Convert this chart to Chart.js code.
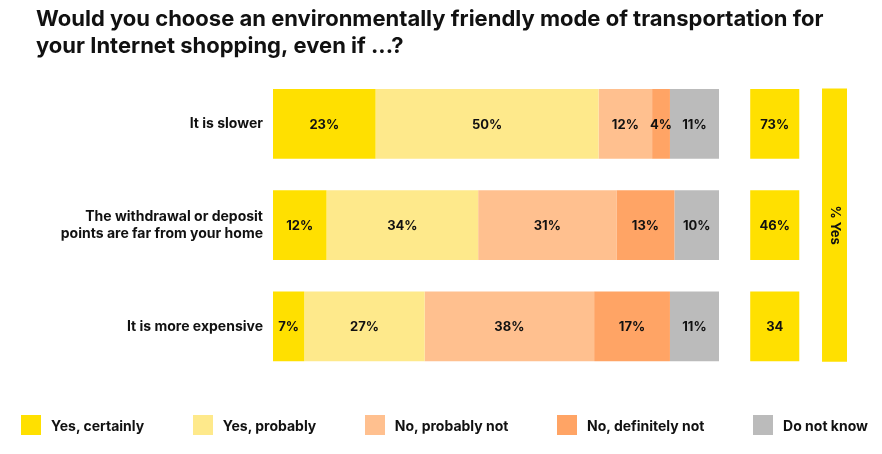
<!DOCTYPE html>
<html lang="en">
<head>
    <meta charset="UTF-8">
    <title>Environmentally friendly transportation</title>
    <script src="https://cdn.jsdelivr.net/npm/chart.js"></script>
    <style>
        html, body { margin: 0; padding: 0; background: #fff; }
        #wrap { position: relative; width: 882px; height: 454px; }
        #legend {
            position: absolute; left: 21px; right: 14px; top: 415px;
            display: flex; justify-content: space-between;
            font: bold 14px Inter, "Open Sans", sans-serif; color: #111;
        }
        #legend .item { display: flex; align-items: center; height: 20px; }
        #legend .box { width: 20px; height: 20px; margin-right: 10px; }
    </style>
</head>
<body>
    <div id="wrap">
        <canvas id="myChart" width="882" height="454"></canvas>
        <div id="legend"></div>
    </div>

    <script>
        const titleLines = [
            'Would you choose an environmentally friendly mode of transportation for',
            'your Internet shopping, even if ...?'
        ];
        const categories = [
            'It is slower',
            ['The withdrawal or deposit', 'points are far from your home'],
            'It is more expensive'
        ];
        const answers = ['Yes, certainly', 'Yes, probably', 'No, probably not', 'No, definitely not', 'Do not know'];
        const yesCertainly = [23, 12, 7];
        const yesProbably = [50, 34, 27];
        const noProbablyNot = [12, 31, 38];
        const noDefinitelyNot = [4, 13, 17];
        const doNotKnow = [11, 10, 11];
        const yesTotals = ['73%', '46%', '34'];
        const yesLabel = '% Yes';

        const colors = ['#FFE000', '#FEE98B', '#FFC08F', '#FFA465', '#BBBBBB'];
        const FONT = 'Inter, "Open Sans", sans-serif';

        // floating bars from running sums so the total boxes can share the x scale
        const series = [yesCertainly, yesProbably, noProbablyNot, noDefinitelyNot, doNotKnow];
        const start = [0, 0, 0];
        const datasets = series.map((vals, i) => {
            const data = vals.map((v, j) => {
                const seg = [start[j], start[j] + v];
                start[j] += v;
                return seg;
            });
            return {
                label: answers[i],
                data: data,
                values: vals,
                backgroundColor: colors[i],
                grouped: false,
                barPercentage: 0.69,
                categoryPercentage: 1
            };
        });
        datasets.push({
            label: 'totals',
            data: yesTotals.map(() => [107, 118]),
            texts: yesTotals,
            backgroundColor: colors[0],
            grouped: false,
            barPercentage: 0.69,
            categoryPercentage: 1
        });
        // one tall bar spanning all three rows, on its own one-label axis
        datasets.push({
            label: 'yes',
            yAxisID: 'y2',
            data: [[123.1, 128.7]],
            texts: [yesLabel],
            rotate: true,
            backgroundColor: colors[0],
            grouped: false,
            barPercentage: 0.9,
            categoryPercentage: 1
        });

        const barText = {
            id: 'barText',
            afterDatasetsDraw(chart) {
                const ctx = chart.ctx;
                ctx.save();
                ctx.fillStyle = '#111';
                ctx.font = 'bold 13px ' + FONT;
                ctx.textAlign = 'center';
                ctx.textBaseline = 'middle';
                chart.data.datasets.forEach((ds, i) => {
                    chart.getDatasetMeta(i).data.forEach((el, j) => {
                        const txt = ds.texts ? ds.texts[j] : ds.values[j] + '%';
                        const cx = (el.x + el.base) / 2;
                        if (ds.rotate) {
                            ctx.save();
                            ctx.translate(cx, el.y);
                            ctx.rotate(Math.PI / 2);
                            ctx.fillText(txt, 0, 0);
                            ctx.restore();
                        } else {
                            ctx.fillText(txt, cx, el.y + 1);
                        }
                    });
                });
                ctx.restore();
            }
        };

        const ctx = document.getElementById('myChart').getContext('2d');
        new Chart(ctx, {
            type: 'bar',
            data: { labels: categories, datasets: datasets },
            plugins: [barText],
            options: {
                indexAxis: 'y',
                responsive: false,
                animation: false,
                layout: { padding: { left: 36, right: 35, top: 0, bottom: 77 } },
                scales: {
                    x: { display: false, min: 0, max: 128.7 },
                    y: {
                        grid: { display: false, drawTicks: false },
                        border: { display: false },
                        ticks: { color: '#111', font: { family: FONT, size: 14, weight: 'bold' }, padding: 10 },
                        afterFit(scale) { scale.width = 237; }
                    },
                    y2: { type: 'category', labels: [yesLabel], display: false }
                },
                plugins: {
                    tooltip: { enabled: false },
                    legend: { display: false },
                    title: {
                        display: true,
                        text: titleLines,
                        align: 'start',
                        color: '#111',
                        font: { family: FONT, size: 22, weight: 'bold', lineHeight: 1.21 },
                        padding: { top: 6, bottom: 14 }
                    }
                }
            }
        });

        // legend built from the same answers / colours
        const legend = document.getElementById('legend');
        answers.forEach((name, i) => {
            const item = document.createElement('div');
            item.className = 'item';
            const box = document.createElement('span');
            box.className = 'box';
            box.style.background = colors[i];
            item.appendChild(box);
            item.appendChild(document.createTextNode(name));
            legend.appendChild(item);
        });
    </script>
</body>
</html>
